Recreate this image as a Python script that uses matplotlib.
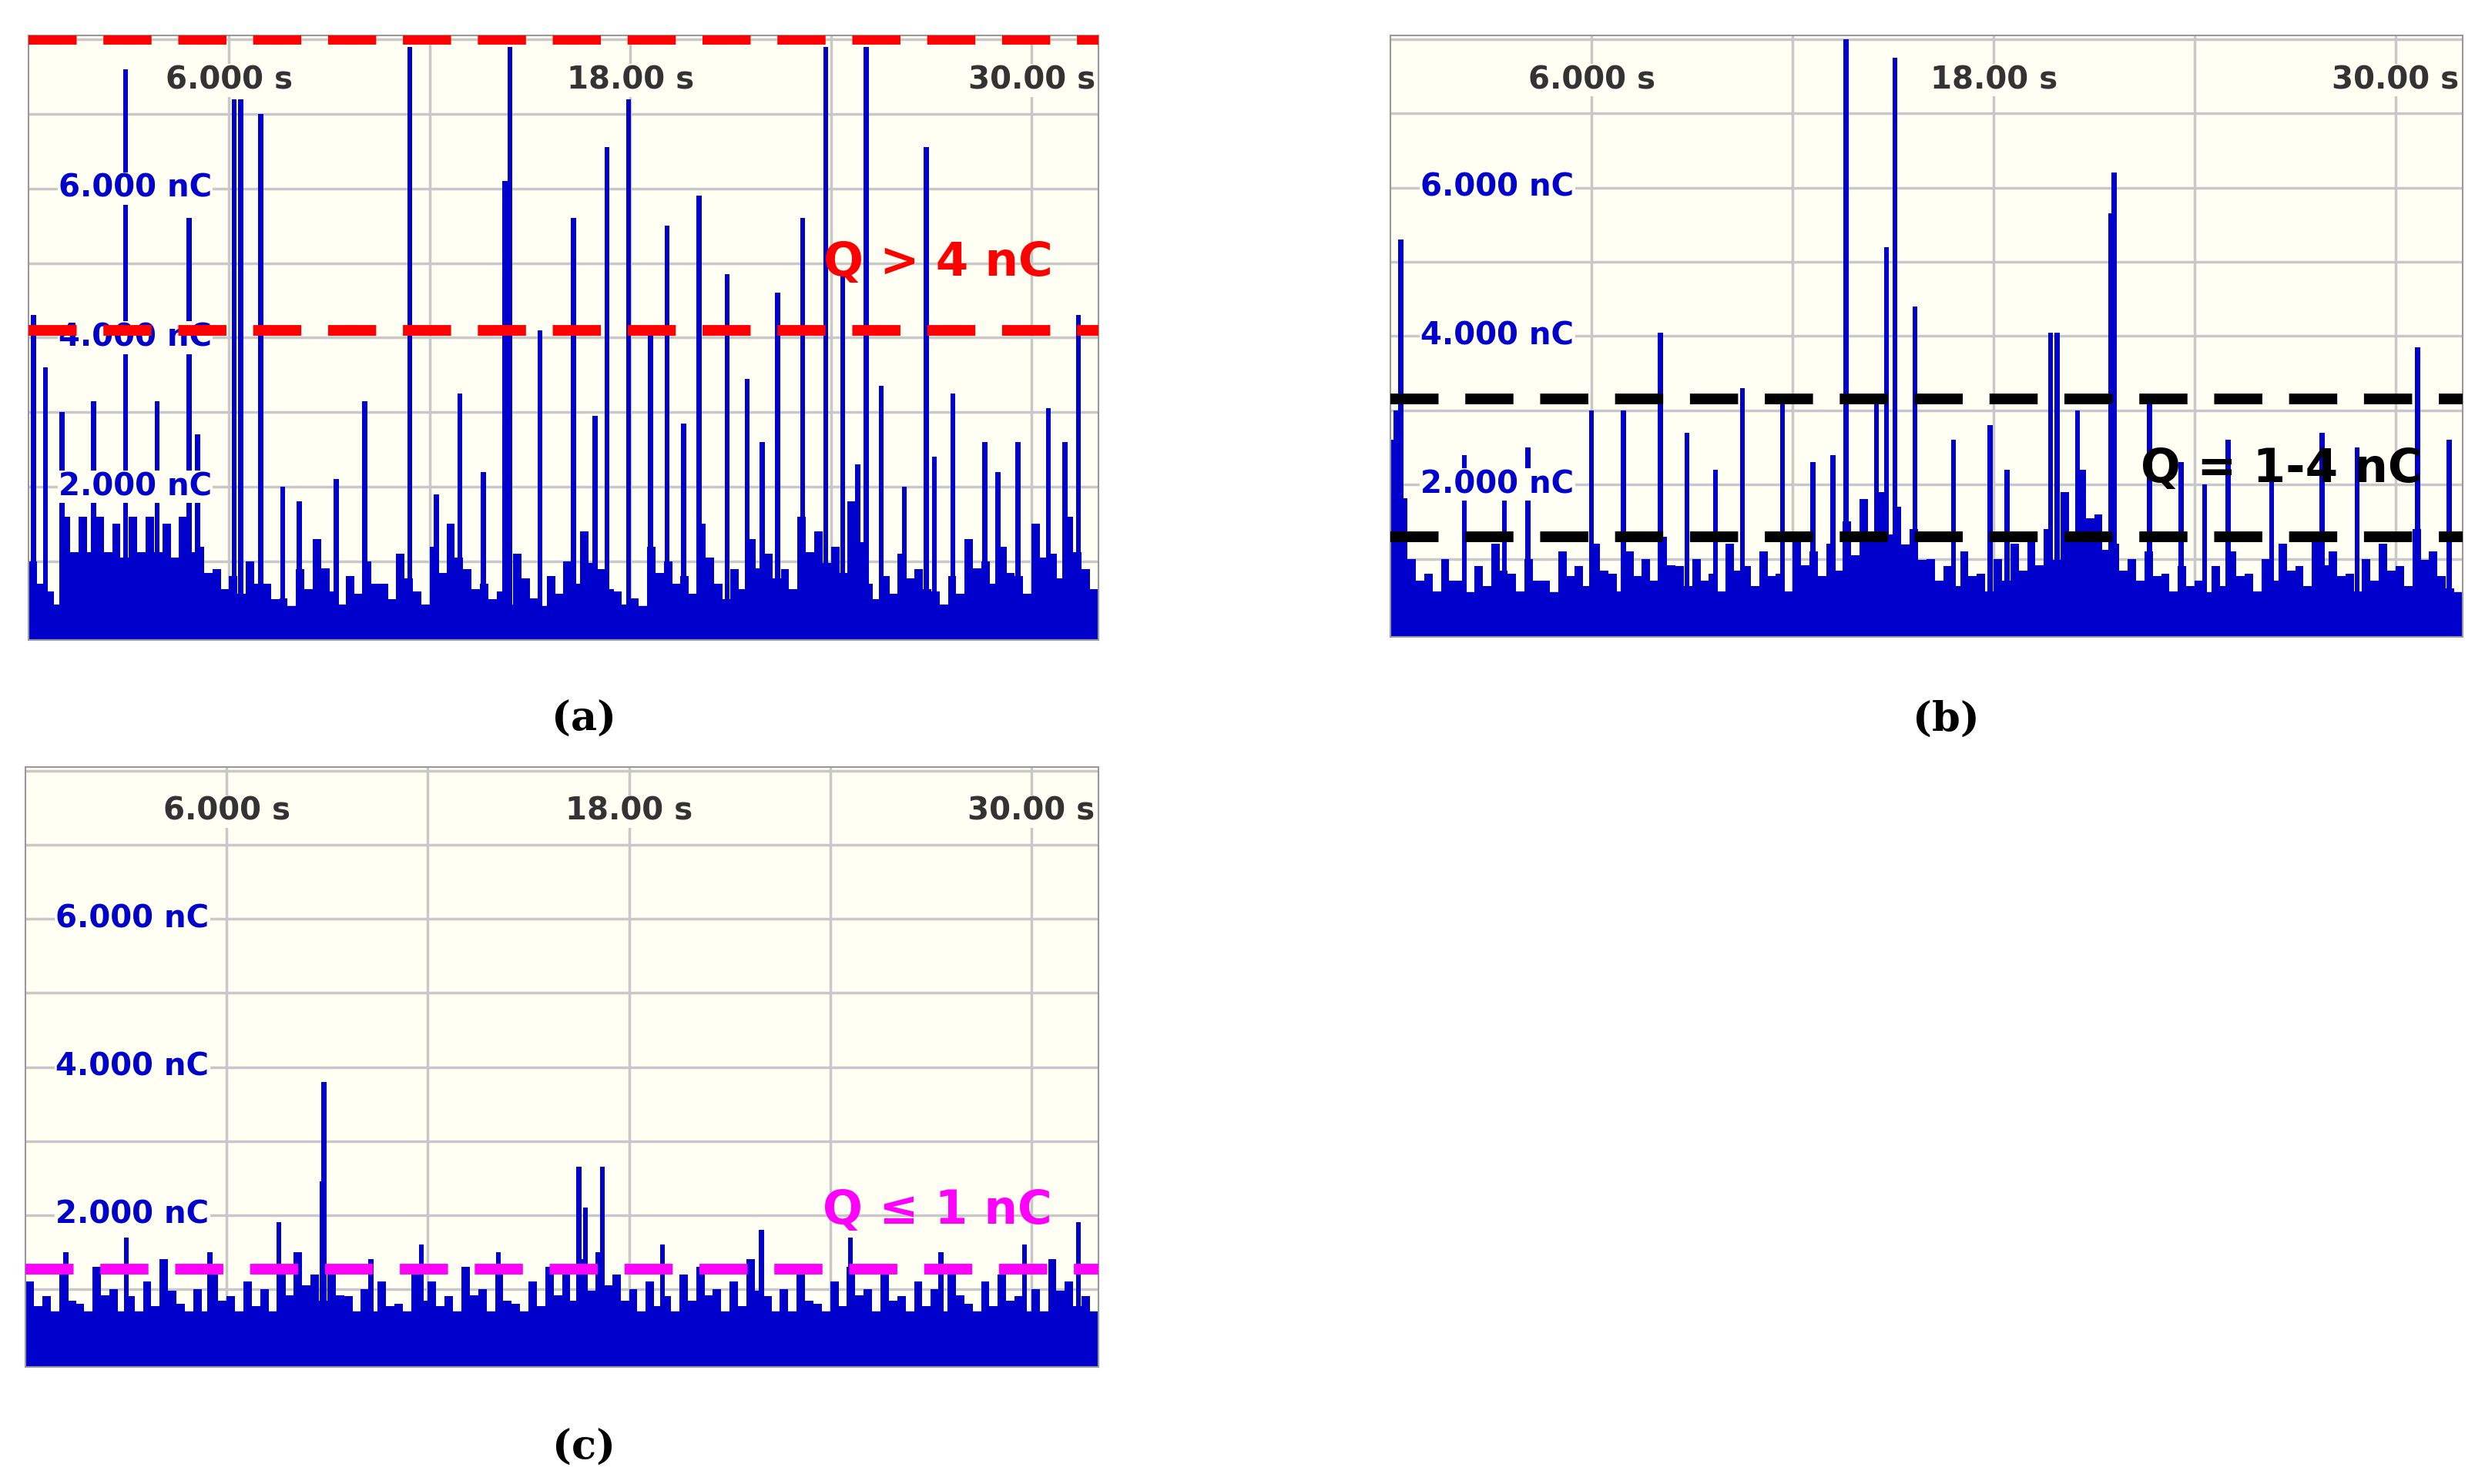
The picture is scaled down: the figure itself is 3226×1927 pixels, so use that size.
import matplotlib
matplotlib.use("Agg")
import matplotlib.pyplot as plt
import numpy as np

# ---- data (time s, charge nC) ----
a_spike_t = [0.15,2.9,4.8,6.15,6.35,6.95,11.4,14.4,14.25,16.3,17.3,17.95,19.1,20.05,20.9,22.4,23.15,23.85,24.35,25.05,26.85,31.4,30.5,
             10.05,12.9,13.6,15.3,16.95,18.6,19.6,21.5,21.95,25.5,27.65,28.6,29.6,1.95,3.85,5.05,1.0,9.2,8.1,27.1,29.0,31.0,7.6,12.2,24.8,26.2,0.5]
a_spike_q = [4.3,7.6,5.6,7.2,7.2,7.0,7.9,7.9,6.1,5.6,6.55,7.2,5.5,5.9,4.85,4.6,5.6,7.9,4.85,7.9,6.55,4.3,3.05,
             3.15,3.25,2.2,4.1,2.95,4.1,2.85,3.45,2.6,3.35,3.25,2.6,2.6,3.15,3.15,2.7,3.0,2.1,1.8,2.4,2.2,2.6,2.0,1.9,2.3,2.0,3.6]
a_floor = [1.0,0.6,1.6,1.6,1.6,1.5,1.6,1.6,1.5,1.6,1.2,0.9,0.8,1.0,0.7,0.5,0.9,1.3,0.6,0.8,1.0,0.7,1.1,0.6,1.2,1.5,0.9,0.7,0.6,1.1,
           0.5,0.8,1.0,1.4,0.9,0.6,0.5,1.2,1.0,0.8,1.5,0.7,0.9,1.3,1.1,0.9,1.6,1.4,1.2,1.8,0.7,0.8,1.1,0.9,0.6,0.8,1.3,1.0,1.2,0.8,1.5,1.1,1.6,0.9]
a_base = 0.4

b_spike_t = [0.3,8.05,13.6,15.05,14.8,15.65,14.5,19.7,19.9,21.6,21.5,10.5,6.95,11.7,20.5,30.65,27.8,22.65,6.0,8.85,17.9,25.0,28.85,
             0.15,2.2,4.1,12.6,16.8,18.4,23.6,26.3,31.6,3.4,9.7,13.2,24.3]
b_spike_q = [5.3,4.05,8.0,7.75,5.2,4.4,3.2,4.05,4.05,6.2,5.65,3.3,3.0,3.2,3.0,3.85,2.7,3.1,3.0,2.7,2.8,2.6,2.5,
             3.0,2.4,2.5,2.3,2.6,2.2,2.3,2.4,2.6,2.1,2.2,2.4,2.0]
b_floor = [2.6,1.0,0.8,1.0,0.7,0.9,1.2,0.8,1.0,0.7,1.1,0.9,1.2,0.8,1.1,1.0,1.3,0.9,1.0,0.8,1.2,0.9,1.1,0.8,1.3,1.1,1.2,1.5,1.8,1.9,
           1.7,1.4,1.0,0.9,1.1,0.8,1.0,1.2,1.3,1.4,1.9,2.2,1.6,1.2,1.0,1.1,0.8,0.9,0.7,0.9,1.1,0.8,1.0,1.2,0.9,1.3,1.1,0.8,1.0,1.2,0.9,1.4,1.1,0.6]
b_base = 0.55

c_spike_t = [8.9,8.85,16.5,17.2,7.55,31.4,16.7,21.95,3.0,5.5,11.8,14.1,19.0,24.6,27.3,29.8,1.2,10.3]
c_spike_q = [3.8,2.45,2.65,2.65,1.9,1.9,2.1,1.8,1.7,1.5,1.6,1.5,1.6,1.7,1.5,1.6,1.5,1.4]
c_floor = [1.1,0.9,1.2,0.8,1.3,1.0,0.9,1.1,1.4,0.8,1.0,1.2,0.9,1.1,1.0,1.3,1.5,1.2,1.3,0.9,1.0,1.1,0.8,1.2,1.1,0.9,1.3,1.0,1.2,0.8,
           1.1,1.3,1.2,1.4,1.5,1.2,1.0,1.1,0.9,1.2,1.3,1.0,1.1,1.4,0.9,1.0,1.2,0.8,1.1,1.3,1.0,1.2,0.9,1.1,1.0,1.3,0.8,1.1,1.2,0.9,1.0,1.4,1.1,0.9]
c_base = 0.7

x_ticks = [6, 18, 30]
x_labels = ["6.000 s", "18.00 s", "30.00 s"]
y_ticks = [2, 4, 6]
y_labels = ["2.000 nC", "4.000 nC", "6.000 nC"]

BLUE = "#0000CC"
BG = "#FFFFF3"

fig = plt.figure(figsize=(32.26, 19.27), dpi=100)

def panel(rect, st, sq, floor, base, lines, lcol, text, tpos, letter, lpos):
    ax = fig.add_axes(rect)
    ax.set_facecolor(BG)
    ax.set_xlim(0, 32)
    ax.set_ylim(-0.05, 8.05)
    for g in range(6, 32, 6):
        ax.axvline(g, color="#c8c8c8", lw=2.5, zorder=1)
    for g in range(1, 9):
        ax.axhline(g, color="#c8c8c8", lw=2.5, zorder=1)
    ft = np.arange(len(floor)) * 0.5
    ax.bar(ft + 0.125, floor, width=0.25, color=BLUE, zorder=2)
    ax.bar(ft + 0.375, [max(base, f * 0.7) for f in floor], width=0.25, color=BLUE, zorder=2)
    ax.bar(st, sq, width=0.15, color=BLUE, zorder=3)
    ax.axhspan(-0.05, base, color=BLUE, zorder=2)
    for xt, xl in zip(x_ticks, x_labels):
        ax.text(xt, 7.45, xl, ha="center", va="center", fontsize=29, color="#333333",
                fontweight="bold", bbox=dict(facecolor=BG, edgecolor="none", pad=1), zorder=4)
    for yt, yl in zip(y_ticks, y_labels):
        ax.text(0.9, yt, yl, ha="left", va="center", fontsize=29, color=BLUE, fontweight="bold",
                bbox=dict(facecolor=BG, edgecolor="none", pad=1), zorder=4)
    for v in lines:
        ax.axhline(v, color=lcol, lw=10, dashes=(4.5, 2.5), zorder=5)
    ax.text(tpos[0], tpos[1], text, ha="center", va="center", fontsize=44,
            fontweight="bold", color=lcol, zorder=6)
    ax.set_xticks([]); ax.set_yticks([])
    for s in ax.spines.values():
        s.set_color("#999999"); s.set_linewidth(1.5)
    fig.text(lpos[0], lpos[1], letter, ha="center", va="center", fontsize=38,
             family="DejaVu Serif", fontweight="bold")
    return ax

panel([0.0115, 0.569, 0.4305, 0.407], a_spike_t, a_spike_q, a_floor, a_base, [8.0, 4.1], "#FF0000",
      "Q > 4 nC", (27.2, 5.0), "(a)", (0.235, 0.515))
panel([0.5596, 0.571, 0.4314, 0.405], b_spike_t, b_spike_q, b_floor, b_base, [3.15, 1.3], "#000000",
      "Q = 1-4 nC", (26.6, 2.2), "(b)", (0.783, 0.515))
panel([0.0103, 0.079, 0.4317, 0.404], c_spike_t, c_spike_q, c_floor, c_base, [1.27], "#FF00FF",
      "Q \u2264 1 nC", (27.2, 2.05), "(c)", (0.235, 0.024))

fig.savefig("out.png", dpi=100)
